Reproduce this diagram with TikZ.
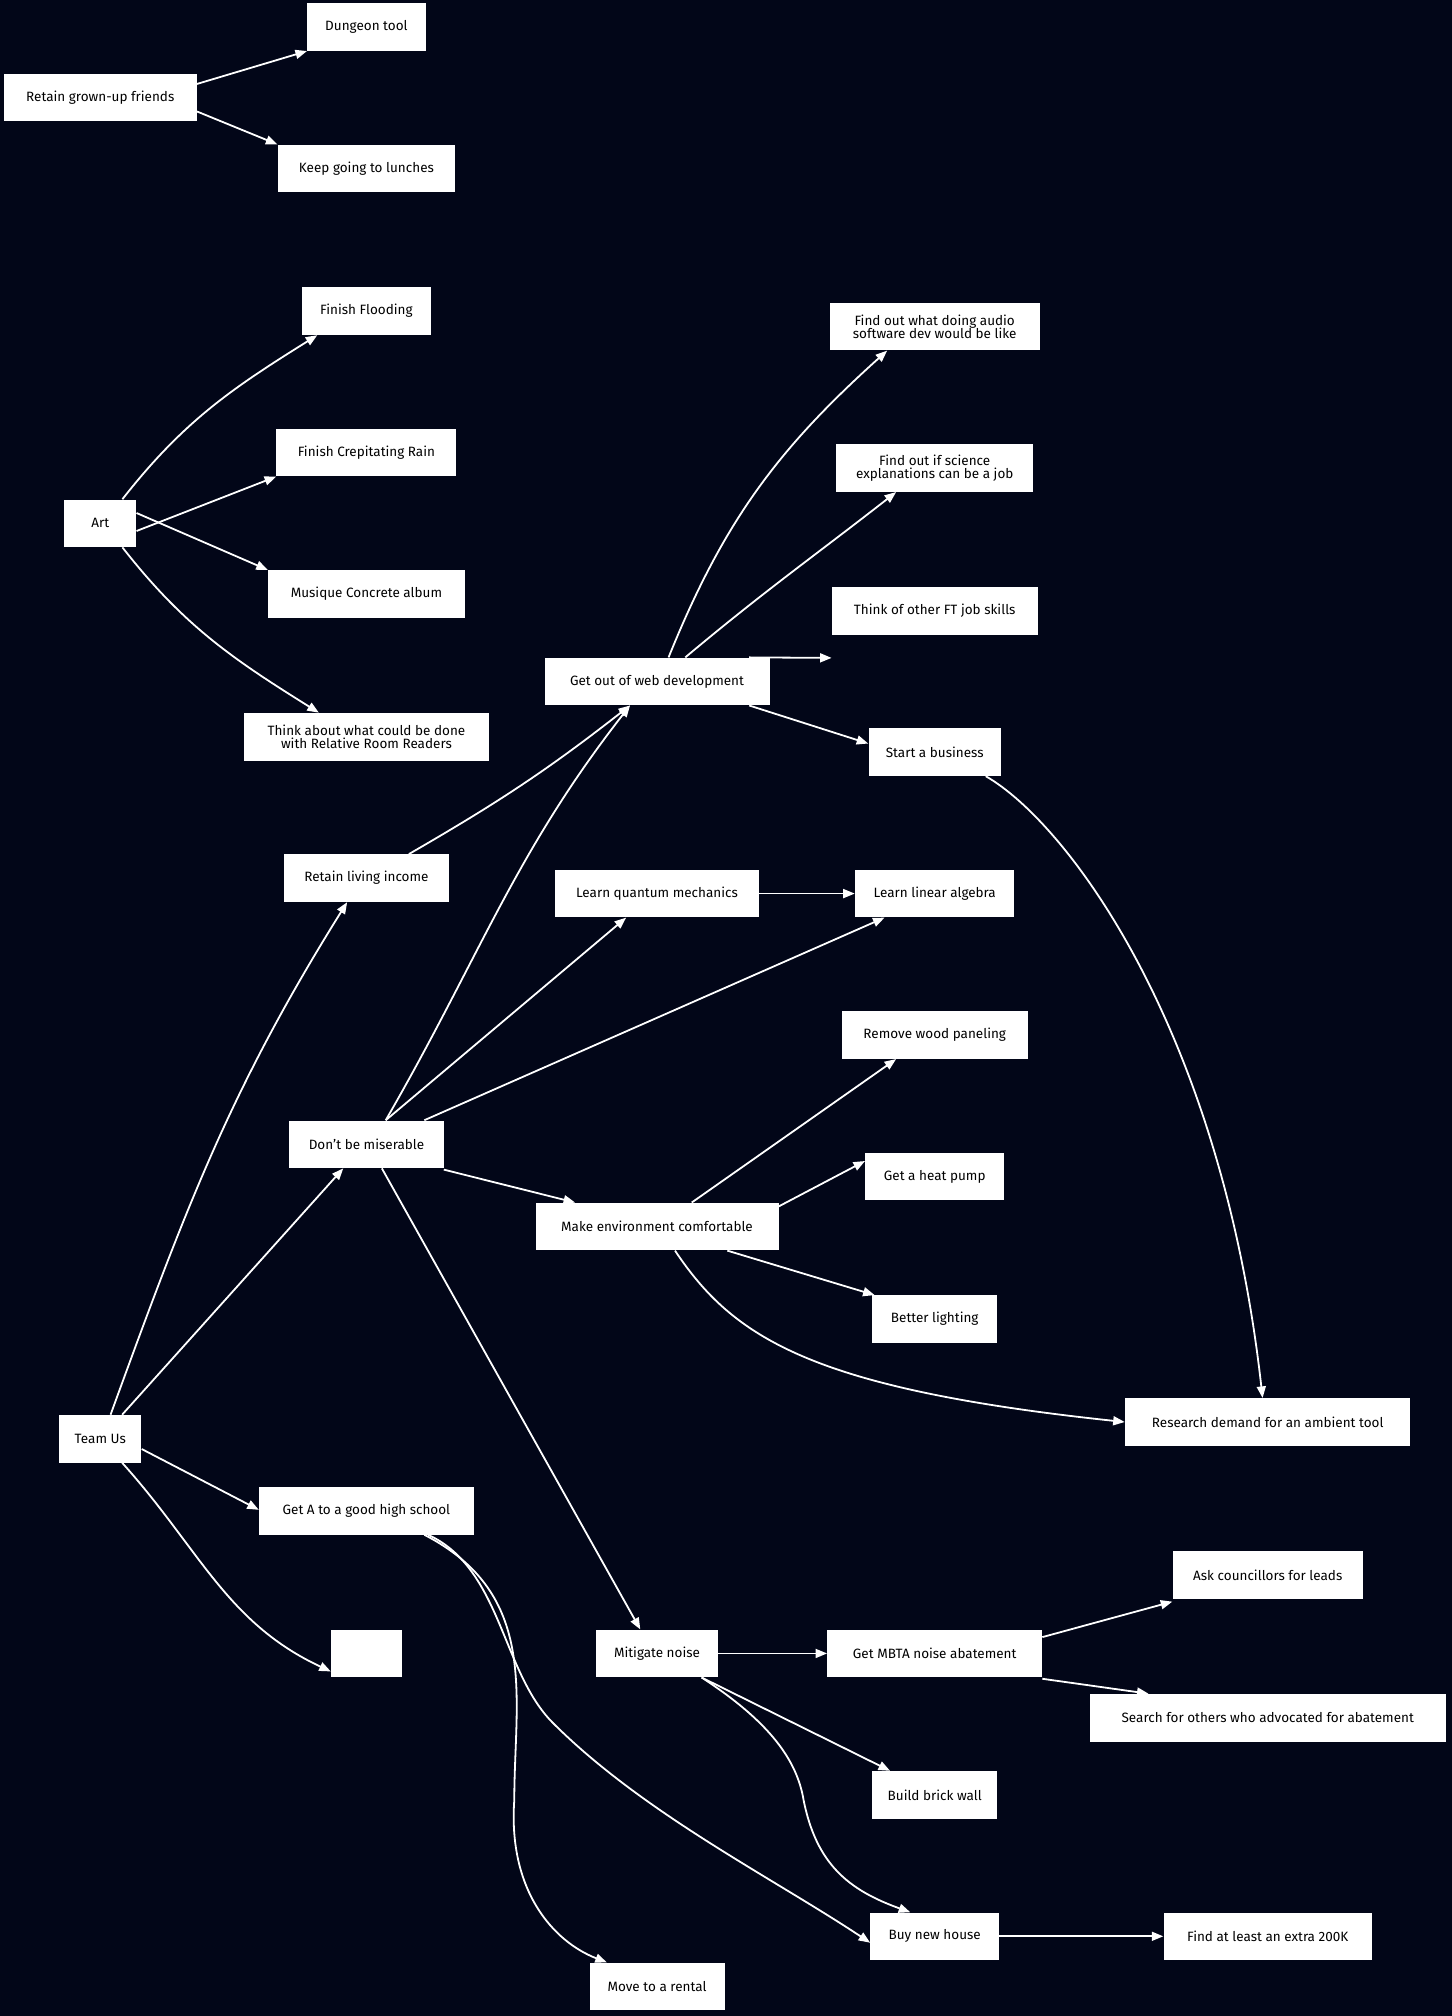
\documentclass[tikz,border=0pt]{standalone}
\usepackage{fontspec}
\setmainfont{Fira Sans}
\usetikzlibrary{arrows.meta}
\begin{document}
\begin{tikzpicture}[x=1pt,y=-1pt,
  box/.style={fill=white,text=black,minimum height=37pt,inner sep=2pt,align=center,font=\fontsize{10.5}{10.5}\selectfont},
  arr/.style={draw=white,line width=1.4pt,-{Triangle[length=9pt,width=7pt]}}]
\fill[black!80!blue!60!black,fill={rgb,255:red,2;green,6;blue,24}] (0,0) rectangle (1129,1568);
\useasboundingbox (0,0) rectangle (1129,1568);
\node[box,minimum width=150] (friends) at (78,76) {Retain grown-up friends};
\node[box,minimum width=92] (dungeon) at (285,21) {Dungeon tool};
\node[box,minimum width=138] (lunches) at (285,131) {Keep going to lunches};
\node[box,minimum width=100] (flooding) at (285,242) {Finish Flooding};
\node[box,minimum width=140] (crep) at (285,352) {Finish Crepitating Rain};
\node[box,minimum width=153] (musique) at (285,462) {Musique Concrete album};
\node[box,minimum width=190] (think) at (285,573) {Think about what could be done\\with Relative Room Readers};
\node[box,minimum width=56] (art) at (78,407) {Art};
\node[box,minimum width=163] (audio) at (727,254) {Find out what doing audio\\software dev would be like};
\node[box,minimum width=153] (science) at (727,364) {Find out if science\\explanations can be a job};
\node[box,minimum width=160] (ftjob) at (727,475) {Think of other FT job skills};
\node[box,minimum width=175] (webdev) at (511,530) {Get out of web development};
\node[box,minimum width=103] (business) at (727,585) {Start a business};
\node[box,minimum width=128] (income) at (285,683) {Retain living income};
\node[box,minimum width=158] (quantum) at (511,695) {Learn quantum mechanics};
\node[box,minimum width=124] (linalg) at (727,695) {Learn linear algebra};
\node[box,minimum width=145] (wood) at (727,805) {Remove wood paneling};
\node[box,minimum width=108] (heat) at (727,915) {Get a heat pump};
\node[box,minimum width=120] (mis) at (285,890) {Don't be miserable};
\node[box,minimum width=189] (comfort) at (511,954) {Make environment comfortable};
\node[box,minimum width=97] (light) at (727,1026) {Better lighting};
\node[box,minimum width=222] (ambient) at (986,1106) {Research demand for an ambient tool};
\node[box,minimum width=64] (team) at (78,1119) {Team Us};
\node[box,minimum width=167] (school) at (285,1175) {Get A to a good high school};
\node[box,minimum width=55] (blank) at (285,1286) {};
\node[box,minimum width=148] (council) at (986,1225) {Ask councillors for leads};
\node[box,minimum width=95] (mitig) at (511,1286) {Mitigate noise};
\node[box,minimum width=167] (mbta) at (727,1286) {Get MBTA noise abatement};
\node[box,minimum width=277] (others) at (986,1336) {Search for others who advocated for abatement};
\node[box,minimum width=97] (brick) at (727,1396) {Build brick wall};
\node[box,minimum width=100] (house) at (727,1506) {Buy new house};
\node[box,minimum width=162] (extra) at (986,1506) {Find at least an extra 200K};
\node[box,minimum width=105] (rental) at (511,1545) {Move to a rental};
% edges
\draw[arr] ([yshift=-8]friends.north east) -- (dungeon.south west);
\draw[arr] ([yshift=8]friends.south east) -- (lunches.north west);
\draw[arr] ([xshift=-11]art.north east) to[out=52,in=212] ([xshift=12]flooding.south west);
\draw[arr] ([yshift=-6]art.east) -- (crep.south west);
\draw[arr] ([yshift=8]art.east) -- (musique.north west);
\draw[arr] ([xshift=-11]art.south east) to[out=-52,in=148] ([xshift=-37]think.north);
\draw[arr] ([xshift=9]webdev.north) to[out=68,in=222] ([xshift=-37]audio.south);
\draw[arr] ([xshift=22]webdev.north) to[out=40,in=218] ([xshift=-30]science.south);
\draw[arr] ([xshift=-16]webdev.north east) -- ([yshift=-18]ftjob.west|-ftjob.south);
\draw[arr] ([xshift=-16]webdev.south east) -- ([yshift=-12]business.north west);
\draw[arr] ([xshift=-12]business.south east) .. controls (830,640) and (950,800) .. ([xshift=-4]ambient.north);
\draw[arr] ([xshift=33]income.north) to[out=30,in=218] ([xshift=-21]webdev.south);
\draw[arr] ([xshift=15]mis.north) to[out=60,in=232] ([xshift=-21]webdev.south);
\draw[arr] ([xshift=15]mis.north) -- ([xshift=-24]quantum.south);
\draw[arr] ([xshift=45]mis.north) -- ([xshift=-39]linalg.south);
\draw[arr] (quantum.east) -- (linalg.west);
\draw[arr] ([yshift=-1]mis.south east) -- ([xshift=31]comfort.north west);
\draw[arr] ([xshift=27]comfort.north) -- ([xshift=-30]wood.south);
\draw[arr] ([yshift=-3]comfort.north east) -- ([yshift=12]heat.west);
\draw[arr] ([xshift=-40]comfort.south east) -- ([xshift=2]light.north west);
\draw[arr] ([xshift=14]comfort.south) .. controls (570,1040) and (630,1080) .. (ambient.west);
\draw[arr] ([xshift=12]mis.south) -- ([xshift=-13]mitig.north);
\draw[arr] ([xshift=8]team.north) to[out=70,in=238] ([xshift=-15]income.south);
\draw[arr] ([xshift=17]team.north) -- ([xshift=-18]mis.south);
\draw[arr] ([yshift=-8]team.east) -- ([yshift=-18]school.north west);
\draw[arr] ([xshift=17]team.south) to[out=-48,in=155] ([yshift=-14]blank.west);
\draw[arr] ([xshift=48]school.south) .. controls (390,1220) and (390,1300) .. (430,1340) .. controls (500,1410) and (600,1460) .. ([yshift=-5]house.west);
\draw[arr] ([xshift=45]school.south) .. controls (420,1240) and (400,1320) .. (400,1400) .. controls (395,1470) and (430,1510) .. ([xshift=-39]rental.north);
\draw[arr] (mitig.east) -- (mbta.west);
\draw[arr] ([yshift=-6]mbta.north east) -- ([xshift=0,yshift=-2]council.south west);
\draw[arr] ([yshift=-1]mbta.south east) -- ([xshift=46]others.north west);
\draw[arr] ([xshift=-13]mitig.south east) -- ([xshift=14]brick.north west);
\draw[arr] ([xshift=-13]mitig.south east) .. controls (600,1340) and (620,1370) .. (625,1400) .. controls (635,1450) and (660,1470) .. ([xshift=-19]house.north);
\draw[arr] (house.east) -- (extra.west);
\end{tikzpicture}
\end{document}
